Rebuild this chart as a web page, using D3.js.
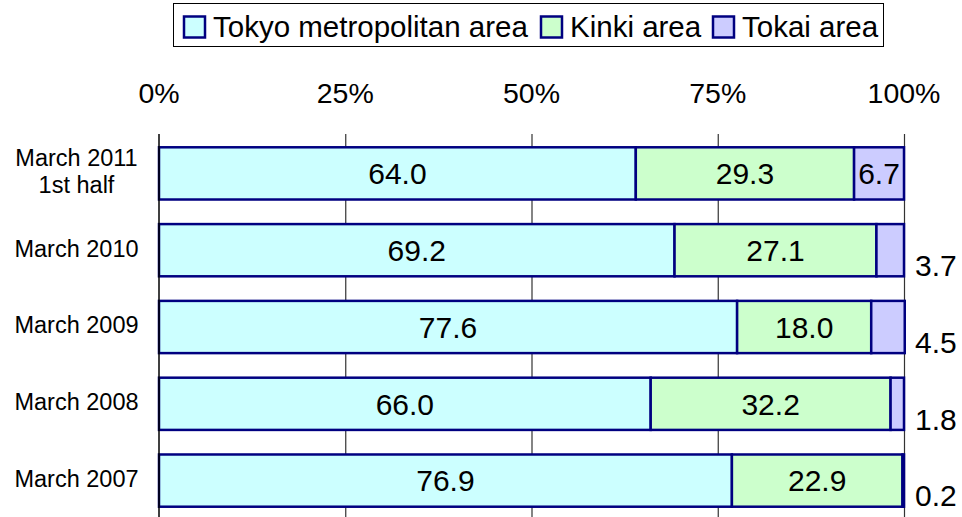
<!DOCTYPE html>
<html>
<head>
<meta charset="utf-8">
<script src="https://cdn.jsdelivr.net/npm/d3@7"></script>
<style>
  body { margin: 0; background: #fff; }
  svg { display: block; font-family: "Liberation Sans", Arial, sans-serif; }
</style>
</head>
<body>
<svg id="chart" width="962" height="517"></svg>
<script>
// chart data
var categories = ["March 2011\n1st half", "March 2010", "March 2009", "March 2008", "March 2007"];
var seriesNames = ["Tokyo metropolitan area", "Kinki area", "Tokai area"];
var tokyo = [64.0, 69.2, 77.6, 66.0, 76.9];
var kinki = [29.3, 27.1, 18.0, 32.2, 22.9];
var tokai = [6.7, 3.7, 4.5, 1.8, 0.2];
var tickValues = [0, 25, 50, 75, 100];
var colors = ["#CCFFFF", "#CCFFCC", "#CCCCFF"];

var svg = d3.select("#chart");
var values = [tokyo, kinki, tokai];

var x = d3.scaleLinear().domain([0, 100]).range([159, 904]);
var y = d3.scaleBand().domain(categories).range([135, 519])
    .paddingInner(0.32).paddingOuter(0.16);

// stacked rows
var rows = categories.map(function(c, i){
    var x0 = 0;
    return values.map(function(s, k){
        var d = {cat: c, k: k, v: s[i], x0: x0, x1: x0 + s[i]};
        x0 += s[i];
        return d;
    });
});

// gridlines (behind bars)
svg.append("g").selectAll("line")
    .data(tickValues.slice(1))
    .enter().append("line")
    .attr("x1", function(d){ return x(d) + 0.5; })
    .attr("x2", function(d){ return x(d) + 0.5; })
    .attr("y1", 134).attr("y2", 517)
    .attr("stroke", "#333").attr("stroke-width", 1.2);

// tick labels on top
svg.append("g").selectAll("text")
    .data(tickValues)
    .enter().append("text")
    .attr("x", function(d){ return x(d); })
    .attr("y", 103)
    .attr("text-anchor", "middle")
    .attr("font-size", 28.5)
    .text(function(d){ return d + "%"; });

// bars
var rowG = svg.append("g").selectAll("g")
    .data(rows)
    .enter().append("g");

rowG.selectAll("rect")
    .data(function(d){ return d; })
    .enter().append("rect")
    .attr("x", function(d){ return x(d.x0); })
    .attr("width", function(d){ return x(d.x1) - x(d.x0); })
    .attr("y", function(d){ return y(d.cat); })
    .attr("height", y.bandwidth())
    .attr("fill", function(d){ return colors[d.k]; })
    .attr("stroke", "#000080")
    .attr("stroke-width", 2.5);

// value labels: inside when wide enough, else outside right
rowG.selectAll("text")
    .data(function(d){ return d; })
    .enter().append("text")
    .attr("font-size", 30)
    .each(function(d){
        var t = d3.select(this);
        var w = x(d.x1) - x(d.x0);
        var cy = y(d.cat) + y.bandwidth() / 2;
        if(w > 45){
            t.attr("x", (x(d.x0) + x(d.x1)) / 2)
             .attr("y", cy)
             .attr("dy", "0.36em")
             .attr("text-anchor", "middle");
        } else {
            t.attr("x", x(100) + 11)
             .attr("y", cy + 15)
             .attr("dy", "0.36em")
             .attr("text-anchor", "start");
        }
        t.text(d.v.toFixed(1));
    });

// left axis line
svg.append("line")
    .attr("x1", x(0)).attr("x2", x(0))
    .attr("y1", 134).attr("y2", 517)
    .attr("stroke", "#000").attr("stroke-width", 1.5);

// category labels
svg.append("g").selectAll("text")
    .data(categories)
    .enter().append("text")
    .attr("text-anchor", "middle")
    .attr("font-size", 23.5)
    .each(function(d){
        var lines = d.split("\n");
        var cy = y(d) + y.bandwidth() / 2;
        var t = d3.select(this);
        lines.forEach(function(l, i){
            t.append("tspan")
                .attr("x", 76.5)
                .attr("y", cy + (i - (lines.length - 1) / 2) * 27)
                .attr("dy", "0.27em")
                .text(l);
        });
    });

// legend
var legend = svg.append("g");
legend.append("rect")
    .attr("x", 173.5).attr("y", 3.5)
    .attr("width", 710).attr("height", 43)
    .attr("fill", "#fff").attr("stroke", "#000").attr("stroke-width", 1);

var legX = [184, 541, 713];
seriesNames.forEach(function(n, i){
    legend.append("rect")
        .attr("x", legX[i]).attr("y", 16.5)
        .attr("width", 21).attr("height", 21)
        .attr("fill", colors[i])
        .attr("stroke", "#000080").attr("stroke-width", 2.5);
    legend.append("text")
        .attr("x", legX[i] + 29).attr("y", 37)
        .attr("font-size", 29.5)
        .text(n);
});
</script>
</body>
</html>
